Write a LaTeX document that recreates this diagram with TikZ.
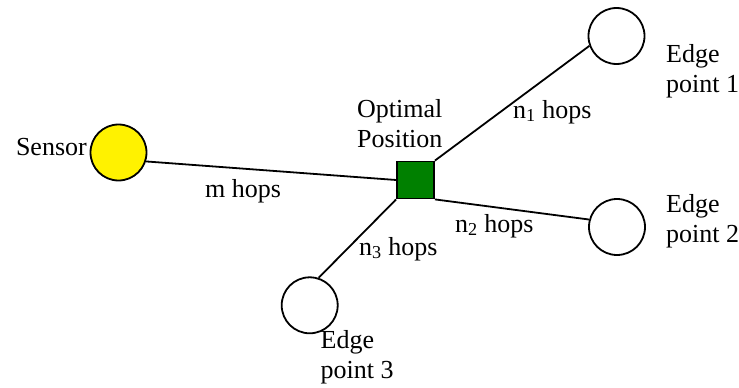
\documentclass[tikz,border=0pt]{standalone}
\usepackage{fontspec}
\setmainfont{Liberation Serif}
\newfontfamily\timesfont{Liberation Serif}
\begin{document}
\begin{tikzpicture}[x=1pt,y=-1pt,
  lbl/.style={inner sep=0pt,font=\timesfont\fontsize{26}{30}\selectfont},
  ptcircle/.style={circle,draw,line width=1.8pt,minimum size=56pt,inner sep=0pt},
  link/.style={line width=1.8pt}]
\useasboundingbox (0,0) rectangle (739,388);
\node[ptcircle,fill=yellow] (sensor) at (118.5,152.5) {};
\node[draw,line width=1.8pt,fill={rgb,255:red,0;green,128;blue,0},minimum size=37pt,inner sep=0pt] (opt) at (415.5,180) {};
\node[ptcircle] (e1) at (616.5,36) {};
\node[ptcircle] (e2) at (617,227) {};
\node[ptcircle] (e3) at (309.7,305.3) {};
\draw[link] (sensor.-18) -- (opt.west);
\draw[link] (opt.north east) -- (e1.200);
\draw[link] (opt.south east) -- (e2.165);
\draw[link] (opt.south west) -- (e3.72);
\node[lbl,anchor=base east] (tsensor) at (87,155) {Sensor};
\node[lbl,anchor=base west] (tm) at (205,197) {m hops};
\node[lbl,anchor=base west] (tn1) at (513,118) {n\textsubscript{1} hops};
\node[lbl,anchor=base west] (tn2) at (455,232) {n\textsubscript{2} hops};
\node[lbl,anchor=base west] (tn3) at (359,255) {n\textsubscript{3} hops};
\node[lbl,anchor=north west,align=left] (topt) at (357,99) {Optimal\\Position};
\node[lbl,anchor=north west,align=left] (te1) at (666,44) {Edge\\point 1};
\node[lbl,anchor=north west,align=left] (te2) at (666,194) {Edge\\point 2};
\node[lbl,anchor=north west,align=left] (te3) at (320.5,330) {Edge\\point 3};
\end{tikzpicture}
\end{document}
